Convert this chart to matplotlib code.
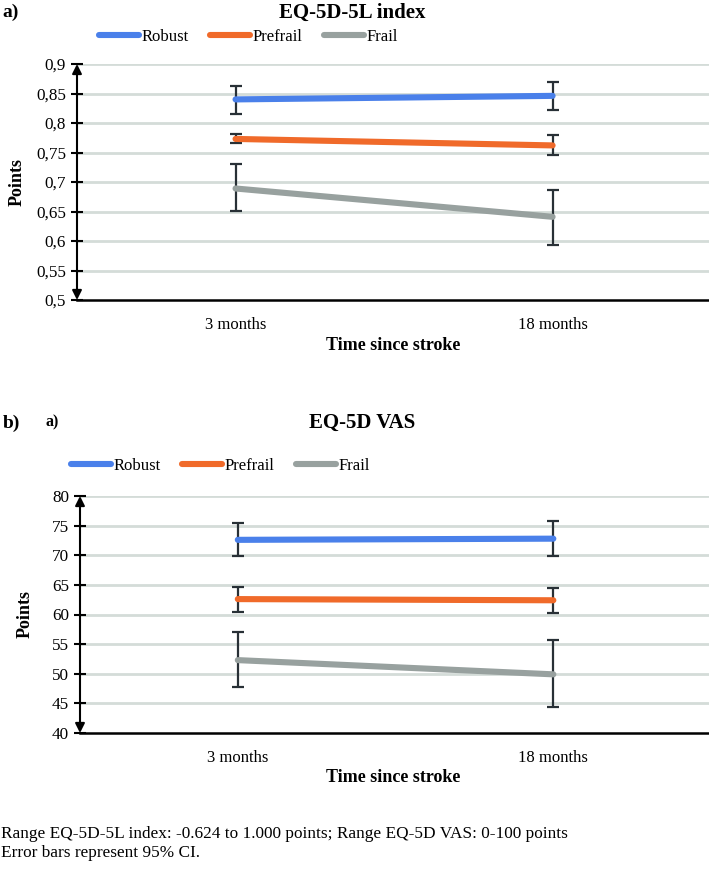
import matplotlib
matplotlib.use("Agg")
import matplotlib.pyplot as plt
from matplotlib.lines import Line2D

plt.rcParams['font.family'] = ['Liberation Serif', 'DejaVu Serif']

categories = ["3 months", "18 months"]
series = ["Robust", "Prefrail", "Frail"]
colors = ["#4a80ea", "#f06a2a", "#98a19f"]

# Panel a: EQ-5D-5L index
idx_mean = {"Robust": [0.840, 0.846], "Prefrail": [0.773, 0.762], "Frail": [0.689, 0.641]}
idx_low = {"Robust": [0.815, 0.822], "Prefrail": [0.766, 0.745], "Frail": [0.651, 0.594]}
idx_high = {"Robust": [0.863, 0.870], "Prefrail": [0.781, 0.780], "Frail": [0.731, 0.686]}
idx_ticks = [0.5, 0.55, 0.6, 0.65, 0.7, 0.75, 0.8, 0.85, 0.9]
idx_ticklabels = ["0,5", "0,55", "0,6", "0,65", "0,7", "0,75", "0,8", "0,85", "0,9"]

# Panel b: EQ-5D VAS
vas_mean = {"Robust": [72.6, 72.8], "Prefrail": [62.6, 62.4], "Frail": [52.3, 49.9]}
vas_low = {"Robust": [69.8, 69.8], "Prefrail": [60.5, 60.3], "Frail": [47.7, 44.4]}
vas_high = {"Robust": [75.4, 75.7], "Prefrail": [64.7, 64.5], "Frail": [57.1, 55.7]}
vas_ticks = [40, 45, 50, 55, 60, 65, 70, 75, 80]
vas_ticklabels = ["40", "45", "50", "55", "60", "65", "70", "75", "80"]

W, H = 709, 873
fig = plt.figure(figsize=(W / 100, H / 100), dpi=100)

def fx(px):
    return px / W

def fy(py):
    return 1 - py / H

def draw_panel(rect, mean, low, high, ticks, ticklabels, title, title_xy,
               legend_xy, xlabel_y):
    ax = fig.add_axes(rect)
    x = list(range(len(categories)))
    for s, c in zip(series, colors):
        m = mean[s]
        yerr = [[m[i] - low[s][i] for i in x], [high[s][i] - m[i] for i in x]]
        ax.errorbar(x, m, yerr=yerr, fmt='none', ecolor='#283036', elinewidth=1.6,
                    capsize=4.5, capthick=1.6, zorder=3)
        ax.plot(x, m, color=c, lw=4.4, solid_capstyle='round', zorder=4)
    ax.set_xlim(-0.5, 1.5)
    ax.set_ylim(ticks[0], ticks[-1])
    ax.set_yticks(ticks)
    ax.set_yticklabels(ticklabels)
    ax.set_xticks(x)
    ax.set_xticklabels(categories)
    ax.tick_params(axis='y', direction='inout', length=8, width=1.5, labelsize=12.3,
                   pad=4, color='black')
    ax.tick_params(axis='x', length=0, labelsize=12, pad=12)
    for t in ticks[1:]:
        ax.axhline(t, color='#d4dcd8', lw=2.0, zorder=1)
    for sp in ['top', 'right', 'left']:
        ax.spines[sp].set_visible(False)
    ax.spines['bottom'].set_linewidth(1.8)
    ax.annotate('', xy=(0, 1), xytext=(0, 0), xycoords='axes fraction',
                textcoords='axes fraction',
                arrowprops=dict(arrowstyle='<|-|>', color='black', lw=1.5,
                                mutation_scale=14, shrinkA=0, shrinkB=0),
                annotation_clip=False, zorder=5)
    ax.set_ylabel("Points", fontsize=13, fontweight='bold')
    fig.text(title_xy[0], title_xy[1], title, ha='center', va='center',
             fontsize=15, fontweight='bold')
    handles = [Line2D([], [], color=c, lw=4.4, solid_capstyle='round') for c in colors]
    fig.legend(handles, series, loc='center left', bbox_to_anchor=legend_xy,
               ncol=3, frameon=False, fontsize=12, handlelength=2.4,
               handletextpad=0.15, columnspacing=1.3, borderpad=0,
               borderaxespad=0)
    fig.text(fx(393), xlabel_y, "Time since stroke", ha='center', va='center',
             fontsize=13, fontweight='bold')
    return ax

ax1 = draw_panel([fx(77), fy(300), 1 - fx(77) + 0.003, fy(64) - fy(300)],
                 idx_mean, idx_low, idx_high, idx_ticks, idx_ticklabels,
                 "EQ-5D-5L index", (fx(352), fy(13)), (fx(99), fy(37)), fy(346))
ax1.yaxis.set_label_coords(-(77 - 26) / (W - 77), 0.5)

ax2 = draw_panel([fx(80), fy(733), 1 - fx(80) + 0.003, fy(496) - fy(733)],
                 vas_mean, vas_low, vas_high, vas_ticks, vas_ticklabels,
                 "EQ-5D VAS", (fx(362), fy(423)), (fx(71), fy(466)), fy(777))
ax2.yaxis.set_label_coords(-(80 - 34) / (W - 80), 0.5)

fig.text(fx(2), fy(12), "a)", ha='left', va='center', fontsize=14, fontweight='bold')
fig.text(fx(3), fy(423), "b)", ha='left', va='center', fontsize=14, fontweight='bold')
fig.text(fx(45), fy(422), "a)", ha='left', va='center', fontsize=11.5, fontweight='bold')

fig.text(fx(1), fy(834), "Range EQ-5D-5L index: -0.624 to 1.000 points; Range EQ-5D VAS: 0-100 points",
         ha='left', va='center', fontsize=12.4)
fig.text(fx(1), fy(853), "Error bars represent 95% CI.", ha='left', va='center', fontsize=12.4)

fig.savefig("out.png", dpi=100)
